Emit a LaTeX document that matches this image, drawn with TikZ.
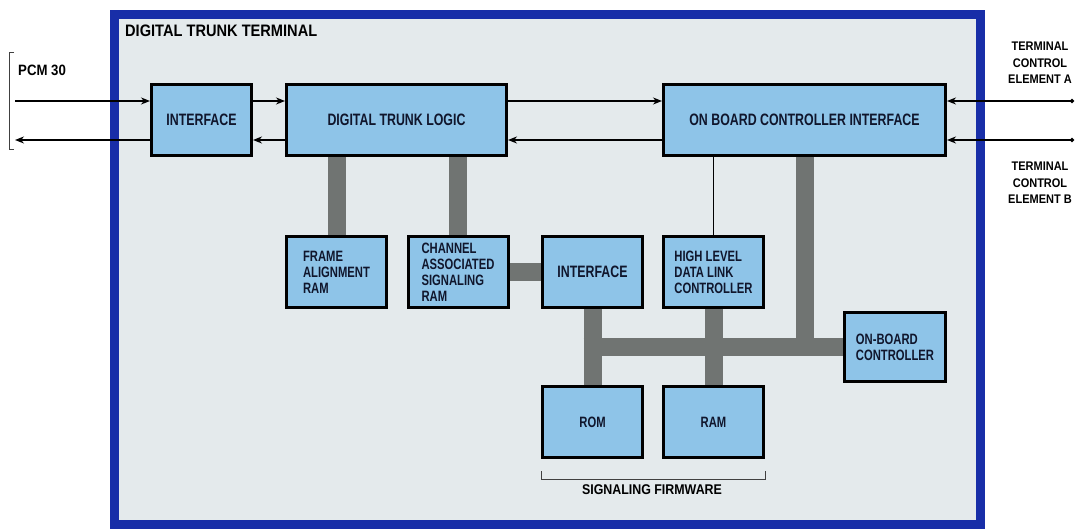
\documentclass[tikz,border=0pt]{standalone}
\usepackage{fontspec}
\setmainfont{Liberation Sans}
\newfontfamily\boxfont{Liberation Sans}[FakeStretch=0.75]
\newfontfamily\labfont{Liberation Sans}[FakeStretch=0.88]
\usepackage{tikz}
\usetikzlibrary{arrows.meta,backgrounds}
\definecolor{framebg}{RGB}{228,234,236}
\definecolor{frameblue}{RGB}{24,46,168}
\definecolor{boxblue}{RGB}{142,196,232}
\definecolor{busgray}{RGB}{112,116,114}
\definecolor{inkblue}{RGB}{16,22,44}

\begin{document}
\begin{tikzpicture}[x=1pt,y=-1pt,
     blk/.style={draw=black,line width=3pt,fill=boxblue,minimum width=100pt,
       minimum height=71pt,inner sep=0pt,text=inkblue,align=left,
       font=\boxfont\bfseries\fontsize{15}{16}\selectfont},
     blkone/.style={blk,font=\boxfont\bfseries\fontsize{16.5}{18}\selectfont},
     bus/.style={draw=busgray,line width=18pt},
     sig/.style={draw=black,line width=1.5pt,-{Stealth[length=9pt,width=7pt]}},
     brk/.style={draw=black!75,line width=1pt},
     lab/.style={inner sep=0pt,text=black,font=\labfont\bfseries\fontsize{15}{16}\selectfont},
     tce/.style={lab,align=center,font=\labfont\bfseries\fontsize{12.5}{16.5}\selectfont}]
    \useasboundingbox (0,0) rectangle (1077,529);
    \node[lab,anchor=west,font=\labfont\bfseries\fontsize{16.6}{18}\selectfont]
      (title) at (125,31) {DIGITAL TRUNK TERMINAL};
    \node[blkone] (iface) at (201.5,120) {INTERFACE};
    \node[blkone,minimum width=220pt] (dtl) at (396.5,120) {DIGITAL TRUNK LOGIC};
    \node[blkone,minimum width=282pt] (obci) at (804.5,120) {ON BOARD CONTROLLER INTERFACE};
    \node[blk] (far) at (336.5,272) {FRAME\\ALIGNMENT\\RAM};
    \node[blk] (cas) at (458,272) {CHANNEL\\ASSOCIATED\\SIGNALING\\RAM};
    \node[blkone] (sif) at (592.5,272) {INTERFACE};
    \node[blk] (hdlc) at (713.5,272) {HIGH LEVEL\\DATA LINK\\CONTROLLER};
    \node[blk,minimum width=101pt,minimum height=69pt] (obc) at (895,347) {ON-BOARD\\CONTROLLER};
    \node[blk] (rom) at (592.5,422) {ROM};
    \node[blk] (ram) at (713.5,422) {RAM};
    \node[lab,anchor=west] (pcm) at (18,70) {PCM 30};
    \node[tce] (tcea) at (1040,63) {TERMINAL\\CONTROL\\ELEMENT A};
    \node[tce] (tceb) at (1040,183) {TERMINAL\\CONTROL\\ELEMENT B};
    \node[lab,font=\labfont\bfseries\fontsize{14.1}{16}\selectfont] (fw) at (652,490) {SIGNALING FIRMWARE};
    \begin{scope}[on background layer]
      \draw[frameblue,line width=9pt,fill=framebg] (114.5,14.5) rectangle (980.5,524.5);
      \draw[bus] (far.north) -- (far.north |- dtl.south);
      \draw[bus] (cas.north) -- (cas.north |- dtl.south);
      \draw[bus] (cas.east) -- (sif.west);
      \draw[bus] (rom.north) -- (sif.south);
      \draw[bus] (ram.north) -- (hdlc.south);
      \draw[bus] (obci.south) -- (obci.south |- obc.west);
      \draw[bus] ([xshift=-9pt]sif.south |- obc.west) -- (obc.west);
    \end{scope}
    \draw[black,line width=1.5pt] (hdlc.north) -- (hdlc.north |- obci.south);
    \coordinate (pcmin) at (15,101);
    \coordinate (pcmout) at (15,140);
    \coordinate (linka) at (1074,101);
    \coordinate (linkb) at (1074,140);
    \draw[sig] (pcmin) -- (pcmin -| iface.west);
    \draw[sig] (pcmout -| iface.west) -- (pcmout);
    \draw[sig] ([yshift=19pt]iface.east) -- ([yshift=19pt]dtl.west);
    \draw[sig] ([yshift=-20pt]dtl.west) -- ([yshift=-20pt]iface.east);
    \draw[sig] ([yshift=19pt]dtl.east) -- ([yshift=19pt]obci.west);
    \draw[sig] ([yshift=-20pt]obci.west) -- ([yshift=-20pt]dtl.east);
    \draw[sig,{Circle[length=4pt]}-{Stealth[length=9pt,width=7pt]}] (linka) -- (linka -| obci.east);
    \draw[sig,{Circle[length=4pt]}-{Stealth[length=9pt,width=7pt]}] (linkb) -- (linkb -| obci.east);
    \draw[brk] (14,53) -- (9,53) -- (9,150) -- (14,150);
    \draw[brk] ([yshift=-12pt]rom.south west) -- ([yshift=-20pt]rom.south west)
      -- ([yshift=-20pt]ram.south east) -- ([yshift=-12pt]ram.south east);
  \end{tikzpicture}
\end{document}
